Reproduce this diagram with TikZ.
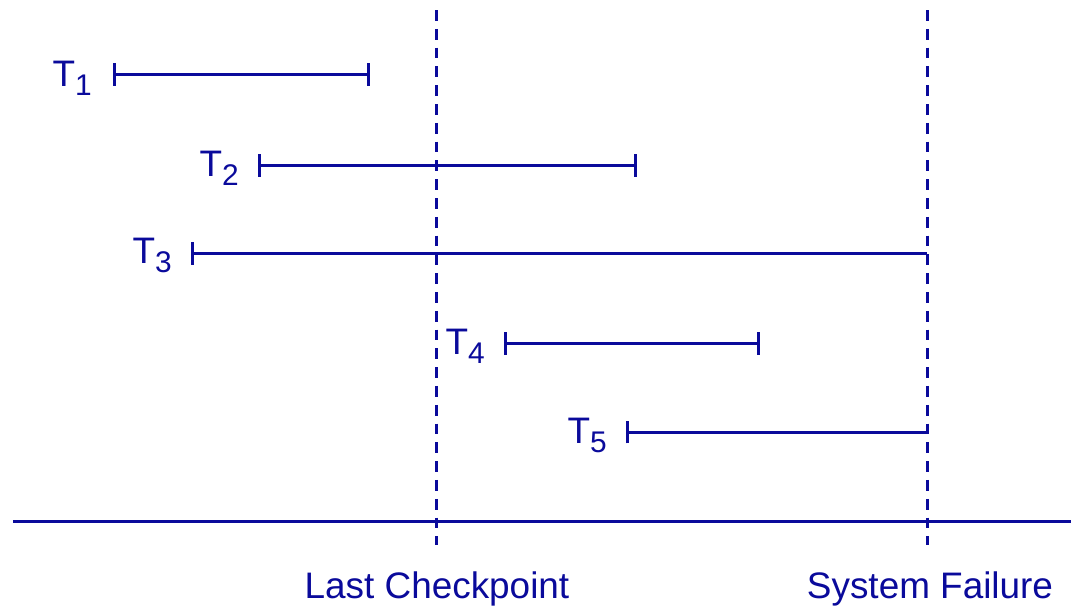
\documentclass[tikz,border=0pt]{standalone}
\usepackage{fontspec}
\setmainfont{Liberation Sans}
\usetikzlibrary{positioning,arrows.meta,calc}

\definecolor{navyline}{RGB}{10,10,155}
\newcommand{\tsub}[1]{T\raisebox{-5.4pt}{\fontsize{17}{20}\selectfont #1}}

\begin{document}
\begin{tikzpicture}[
    x=0.02cm, y=-0.02cm,
    bar/.style={draw=navyline, line width=1.7pt, {Bar[width=13pt]}-{Bar[width=13pt]}},
    openbar/.style={draw=navyline, line width=1.7pt, {Bar[width=13pt]}-},
    axis/.style={draw=navyline, line width=1.7pt},
    mark line/.style={draw=navyline, line width=1.7pt, dash pattern=on 6.2pt off 4.5pt},
    tname/.style={text=navyline, font=\fontsize{21}{25}\selectfont, inner sep=0pt, anchor=base east},
    caption/.style={text=navyline, font=\fontsize{21}{25}\selectfont, inner sep=0pt, anchor=base}
]
\useasboundingbox (0,0) rectangle (1071,606);

% Time marks
\coordinate (ckTop) at (436,10);
\coordinate (ckBot) at (436,545);
\coordinate (sfTop) at (927,10);
\coordinate (sfBot) at (927,545);
\draw[mark line] (ckTop) -- (ckBot);
\draw[mark line] (sfTop) -- (sfBot);

% Time axis
\coordinate (axL) at (13,521);
\coordinate (axR) at (1071,521);
\draw[axis] (axL) -- (axR);

% Transactions
\coordinate (t1s) at (113,74.5);
\coordinate (t1e) at (370,74.5);
\coordinate (t2s) at (258,165.5);
\coordinate (t2e) at (637,165.5);
\coordinate (t3s) at (191,253.5);
\coordinate (t3e) at (sfTop |- t3s);
\coordinate (t4s) at (504,343.5);
\coordinate (t4e) at (760,343.5);
\coordinate (t5s) at (626,432);
\coordinate (t5e) at (sfTop |- t5s);

\draw[bar] (t1s) -- (t1e);
\draw[bar] (t2s) -- (t2e);
\draw[openbar] (t3s) -- (t3e);
\draw[bar] (t4s) -- (t4e);
\draw[openbar] (t5s) -- (t5e);

% Labels
\node[tname] (t1) at ($(t1s)+(-21,12)$) {\tsub{1}};
\node[tname] (t2) at ($(t2s)+(-19,11)$) {\tsub{2}};
\node[tname] (t3) at ($(t3s)+(-19,10)$) {\tsub{3}};
\node[tname] (t4) at ($(t4s)+(-19,11)$) {\tsub{4}};
\node[tname] (t5) at ($(t5s)+(-19,11)$) {\tsub{5}};

\node[caption] (ck) at ($(ckBot)+(1,53)$) {Last Checkpoint};
\node[caption] (sf) at ($(sfBot)+(3,53)$) {System Failure};

\end{tikzpicture}
\end{document}
